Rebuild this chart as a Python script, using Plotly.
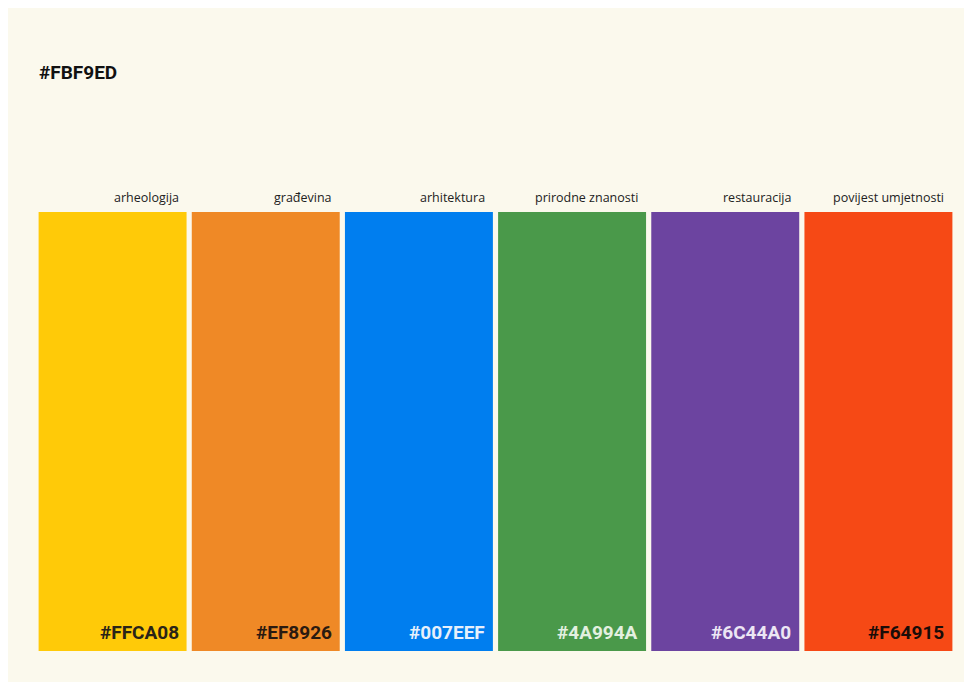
import plotly.graph_objects as go

categories = ["arheologija", "građevina", "arhitektura", "prirodne znanosti", "restauracija", "povijest umjetnosti"]
hex_codes = ["#FFCA08", "#EF8926", "#007EEF", "#4A994A", "#6C44A0", "#F64915"]
values = [1, 1, 1, 1, 1, 1]
hex_text_colors = ["#2a2418", "#2a1a10", "#e6f0fb", "#e3f0e0", "#ece6f4", "#1a0c08"]
background_hex = "#FBF9ED"

fig = go.Figure(
    go.Bar(
        x=list(range(len(categories))),
        y=values,
        marker=dict(color=hex_codes, line=dict(width=0)),
        hoverinfo="skip",
    )
)

cond_font = "Roboto, sans-serif"
annotations = []
for i, (cat, hx, tc) in enumerate(zip(categories, hex_codes, hex_text_colors)):
    annotations.append(dict(
        x=i + 0.483, y=1, xref="x", yref="y", text=cat, showarrow=False,
        xanchor="right", yanchor="bottom", xshift=-6, yshift=4,
        font=dict(family="Open Sans, sans-serif", size=12.5, color="#222222"),
    ))
    annotations.append(dict(
        x=i + 0.483, y=0, xref="x", yref="y", text="<b>" + hx + "</b>", showarrow=False,
        xanchor="right", yanchor="bottom", xshift=-6, yshift=5,
        font=dict(family=cond_font, size=19, color=tc),
    ))
annotations.append(dict(
    x=0, y=1, xref="paper", yref="paper", text="<b>" + background_hex + "</b>", showarrow=False,
    xanchor="left", yanchor="middle", xshift=1, yshift=140,
    font=dict(family=cond_font, size=19, color="#111111"),
))

fig.update_layout(
    width=956, height=674,
    paper_bgcolor=background_hex, plot_bgcolor=background_hex,
    margin=dict(l=28, r=9, t=204, b=31),
    bargap=0.034,
    showlegend=False,
    xaxis=dict(visible=False, range=[-0.5, 5.5], fixedrange=True),
    yaxis=dict(visible=False, range=[0, 1], fixedrange=True),
    annotations=annotations,
)

fig.write_html("out.html")
